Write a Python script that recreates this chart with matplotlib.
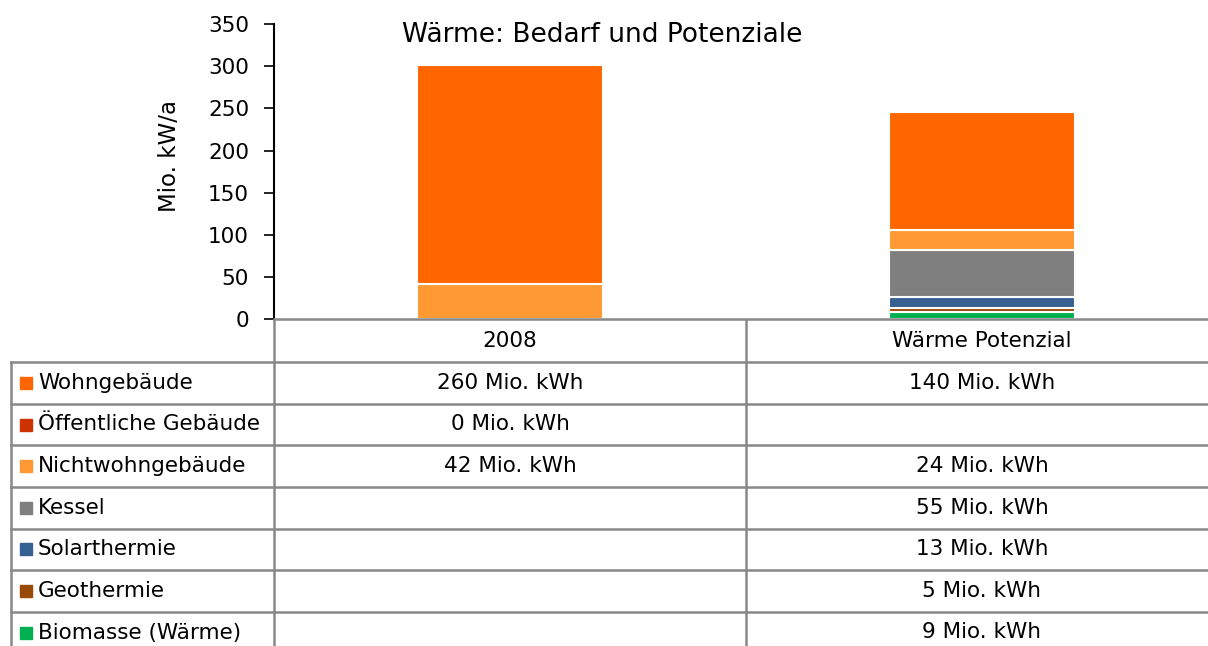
import matplotlib
matplotlib.use("Agg")
import matplotlib.pyplot as plt
from matplotlib.lines import Line2D
from matplotlib.patches import Rectangle

plt.rcParams['font.family'] = ['DejaVu Sans']

# Daten
categories = ["2008", "Wärme Potenzial"]
series_names = ["Wohngebäude", "Öffentliche Gebäude", "Nichtwohngebäude", "Kessel",
                "Solarthermie", "Geothermie", "Biomasse (Wärme)"]
values_2008 = [260, 0, 42, None, None, None, None]
values_potenzial = [140, None, 24, 55, 13, 5, 9]
colors = ["#FF6600", "#CC3300", "#FF9933", "#7F7F7F", "#376092", "#984807", "#00B050"]
y_ticks = [0, 50, 100, 150, 200, 250, 300, 350]

W, H = 1208, 646
fig = plt.figure(figsize=(W / 100, H / 100), dpi=100)
FS = 15.5


def fx(px):
    return px / W


def fy(py):
    return 1 - py / H


# Achsenbereich (rechts bis hinter den Bildrand wie im Original)
ax_left, ax_right, ax_top, ax_bottom = 274, 1218, 24, 319.5
ax = fig.add_axes([fx(ax_left), fy(ax_bottom), fx(ax_right - ax_left), (ax_bottom - ax_top) / H])
ax.set_xlim(-0.5, 1.5)
ax.set_ylim(0, 350)

bottoms = [0, 0]
for i in reversed(range(len(series_names))):
    vals = [values_2008[i], values_potenzial[i]]
    for j, v in enumerate(vals):
        if not v:
            continue
        ax.bar(j, v, width=0.395, bottom=bottoms[j], color=colors[i],
               edgecolor="white", linewidth=1.5)
        bottoms[j] += v

ax.set_yticks(y_ticks)
ax.set_yticklabels([str(t) for t in y_ticks], fontsize=FS)
ax.set_xticks([])
ax.tick_params(axis="y", length=7, width=1.2, pad=11, colors="black")
for s in ["top", "right"]:
    ax.spines[s].set_visible(False)
ax.spines["left"].set_color("black")
ax.spines["left"].set_linewidth(1.5)
ax.spines["bottom"].set_color("#888888")
ax.spines["bottom"].set_linewidth(1.8)
ax.set_ylabel("Mio. kW/a", fontsize=16.5)
ax.yaxis.set_label_coords((181 - ax_left) / (ax_right - ax_left), (ax_bottom - 156) / (ax_bottom - ax_top))

fig.text(fx(602), fy(35), "Wärme: Bedarf und Potenziale", fontsize=19,
         ha="center", va="center")

# Datentabelle
grid_color = "#888888"
row_h = 41.6
top_row = 320.5
col_x = [11, 274, 746, 1218]
n_rows = len(series_names)

# Kopfzeile
for j, cat in enumerate(categories):
    cx = (col_x[j + 1] + col_x[j + 2]) / 2
    fig.text(fx(cx), fy(top_row + row_h / 2), cat, fontsize=FS, ha="center", va="center")

for k in range(n_rows + 1):
    y = top_row + (k + 1) * row_h
    fig.add_artist(Line2D([fx(col_x[0]), fx(W + 20)], [fy(y), fy(y)],
                          color=grid_color, linewidth=1.8))

for xv in col_x[1:3]:
    fig.add_artist(Line2D([fx(xv), fx(xv)], [fy(top_row), fy(H + 20)],
                          color=grid_color, linewidth=1.8))
fig.add_artist(Line2D([fx(col_x[0]), fx(col_x[0])], [fy(top_row + row_h), fy(H + 20)],
                      color=grid_color, linewidth=1.8))

for i, name in enumerate(series_names):
    cy = top_row + (i + 1.5) * row_h
    fig.add_artist(Rectangle((fx(20), fy(cy + 6)), fx(12), 12 / H,
                             color=colors[i], transform=fig.transFigure))
    fig.text(fx(38), fy(cy), name, fontsize=FS, ha="left", va="center")
    for j, vals in enumerate([values_2008, values_potenzial]):
        v = vals[i]
        if v is None:
            continue
        cx = (col_x[j + 1] + col_x[j + 2]) / 2
        fig.text(fx(cx), fy(cy), f"{v} Mio. kWh", fontsize=FS, ha="center", va="center")

fig.savefig("out.png", dpi=100)
